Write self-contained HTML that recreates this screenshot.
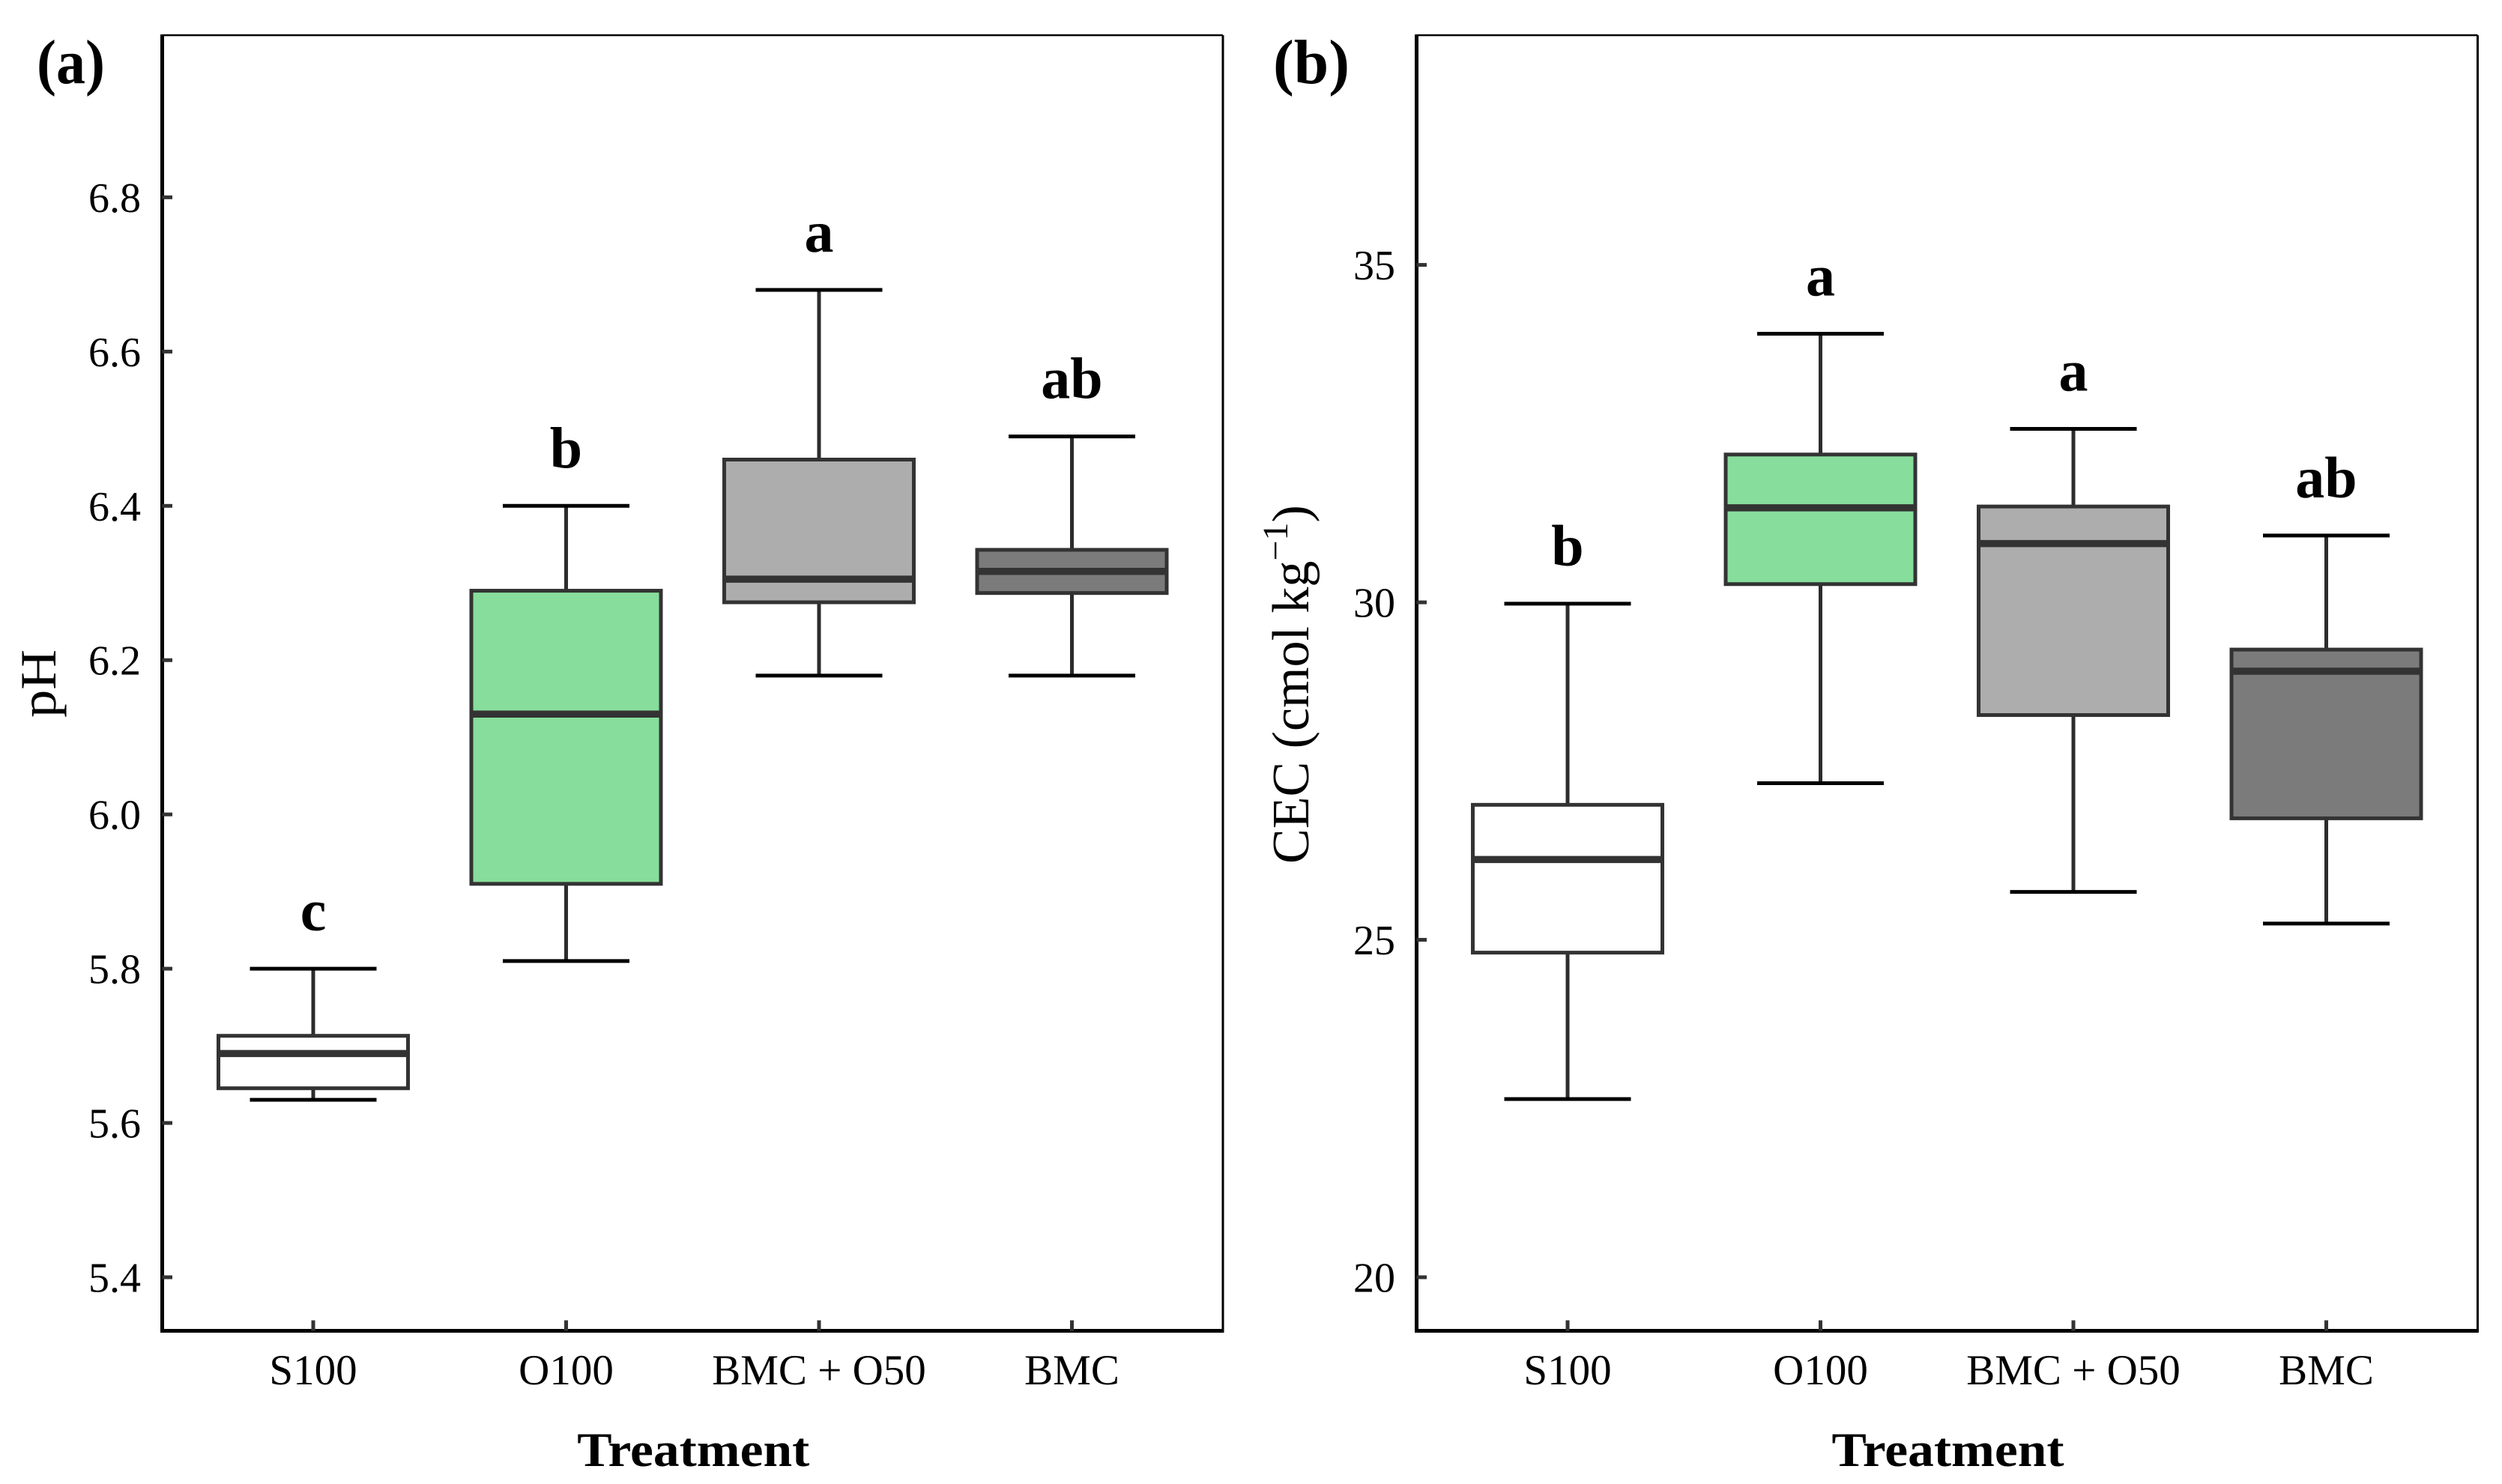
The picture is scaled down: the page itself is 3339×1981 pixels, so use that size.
<!DOCTYPE html>
<html lang="en">
<head>
<meta charset="utf-8">
<title>Soil pH and CEC by treatment</title>
<style>
html,body{margin:0;padding:0;background:#fff;}
svg{display:block;font-family:"Liberation Serif",serif;}
</style>
</head>
<body>
<svg id="figure" xmlns="http://www.w3.org/2000/svg" width="3339" height="1981" viewBox="0 0 3339 1981">
<rect width="3339" height="1981" fill="#ffffff"/>
<g id="panel-a"></g>
<g id="panel-b"></g>
</svg>
<script>
const categories = ["S100", "O100", "BMC + O50", "BMC"];
const categoryKeys = ["s100", "o100", "bmc-o50", "bmc"];
const boxFills = ["#ffffff", "#87dd9b", "#adadad", "#7b7b7b"];

const phTicks = [5.4, 5.6, 5.8, 6.0, 6.2, 6.4, 6.6, 6.8];
const phTickLabels = ["5.4", "5.6", "5.8", "6.0", "6.2", "6.4", "6.6", "6.8"];
const phLow = [5.63, 5.81, 6.18, 6.18];
const phQ1 = [5.645, 5.91, 6.275, 6.287];
const phMedian = [5.69, 6.13, 6.305, 6.315];
const phQ3 = [5.713, 6.29, 6.46, 6.343];
const phHigh = [5.80, 6.40, 6.68, 6.49];
const phLetters = ["c", "b", "a", "ab"];

const cecTicks = [20, 25, 30, 35];
const cecTickLabels = ["20", "25", "30", "35"];
const cecLow = [22.64, 27.32, 25.71, 25.24];
const cecQ1 = [24.81, 30.27, 28.33, 26.8];
const cecMedian = [26.19, 31.4, 30.87, 28.98];
const cecQ3 = [27.0, 32.19, 31.42, 29.3];
const cecHigh = [29.98, 33.98, 32.57, 30.99];
const cecLetters = ["b", "a", "a", "ab"];

const NS = "http://www.w3.org/2000/svg";
function make(parent, tag, props, text) {
  const el = document.createElementNS(NS, tag);
  for (const k in props) el.setAttribute(k, props[k]);
  if (text !== undefined) el.textContent = text;
  parent.appendChild(el);
  return el;
}
function linear(d0, d1, r0, r1) {
  return v => r0 + (v - d0) * (r1 - r0) / (d1 - d0);
}

function drawPanel(root, cfg) {
  const xPos = i => cfg.xStart + i * cfg.xStep;
  const y = cfg.yScale;
  const L = cfg.left, R = cfg.right, T = 47, B = 1776.5;

  const frameTop = make(root, "line", {x1: L, x2: R, y1: T, y2: T, stroke: "#000", "stroke-width": 2.5});
  
  
  const frameRight = make(root, "line", {x1: R, x2: R, y1: T, y2: B + 2.5, stroke: "#000", "stroke-width": 3});
  
  
  const yAxis = make(root, "line", {x1: L, x2: L, y1: T - 1, y2: B + 2.5, stroke: "#000", "stroke-width": 5});
  
  
  const xAxis = make(root, "line", {x1: L - 2.5, x2: R + 1.5, y1: B, y2: B, stroke: "#000", "stroke-width": 5});
  
  

  cfg.ticks.forEach((t, i) => {
    const tick = make(root, "line", {x1: L, x2: L + 13.5, y1: y(t), y2: y(t), stroke: "#333", "stroke-width": 5});
    
    
    const label = make(root, "text", {x: L - 28.5, y: y(t) + 19.5, "font-size": 56, "text-anchor": "end", fill: "#000"}, cfg.tickLabels[i]);
    
    
  });

  categories.forEach((c, i) => {
    const cx = xPos(i);
    const tick = make(root, "line", {x1: cx, x2: cx, y1: B, y2: B - 14, stroke: "#333", "stroke-width": 5});
    
    
    const label = make(root, "text", {x: cx, y: 1848, "font-size": 57, "text-anchor": "middle", fill: "#000"}, c);
    
    

    const whisker = make(root, "line", {x1: cx, x2: cx, y1: y(cfg.high[i]), y2: y(cfg.low[i]), stroke: "#2c2c2c", "stroke-width": 5});
    
    
    const capHigh = make(root, "line", {x1: cx - 84.5, x2: cx + 84.5, y1: y(cfg.high[i]), y2: y(cfg.high[i]), stroke: "#000", "stroke-width": 5});
    
    
    const capLow = make(root, "line", {x1: cx - 84.5, x2: cx + 84.5, y1: y(cfg.low[i]), y2: y(cfg.low[i]), stroke: "#000", "stroke-width": 5});
    
    
    const box = make(root, "rect", {x: cx - 126.5, width: 253, y: y(cfg.q3[i]), height: y(cfg.q1[i]) - y(cfg.q3[i]), fill: boxFills[i], stroke: "#333", "stroke-width": 5});
    
    
    const median = make(root, "line", {x1: cx - 126.5, x2: cx + 126.5, y1: y(cfg.median[i]), y2: y(cfg.median[i]), stroke: "#333", "stroke-width": 9.5});
    
    
    const letter = make(root, "text", {x: cx, y: y(cfg.high[i]) - 51, "font-size": 78, "font-weight": "bold", "text-anchor": "middle", fill: "#000"}, cfg.letters[i]);
    
    
  });

  const xTitle = make(root, "text", {x: (L + R) / 2 + 1, y: 1957, "font-size": 65, "font-weight": "bold", "text-anchor": "middle", fill: "#000", textLength: 310, lengthAdjust: "spacingAndGlyphs"}, "Treatment");
  
  
}

const panelA = document.getElementById("panel-a");
const panelB = document.getElementById("panel-b");

drawPanel(panelA, {
  left: 216.5, right: 1632, xStart: 418, xStep: 337.5,
  yScale: linear(5.4, 6.8, 1705, 263.4),
  ticks: phTicks, tickLabels: phTickLabels,
  low: phLow, q1: phQ1, median: phMedian, q3: phQ3, high: phHigh, letters: phLetters
});
drawPanel(panelB, {
  left: 1890.5, right: 3306.5, xStart: 2092, xStep: 337.5,
  yScale: linear(20, 35, 1705, 353.6),
  ticks: cecTicks, tickLabels: cecTickLabels,
  low: cecLow, q1: cecQ1, median: cecMedian, q3: cecQ3, high: cecHigh, letters: cecLetters
});

const tagA = make(panelA, "text", {x: 49, y: 111, "font-size": 84, "font-weight": "bold", fill: "#000", textLength: 91, lengthAdjust: "spacingAndGlyphs"}, "(a)");


const tagB = make(panelB, "text", {x: 1699, y: 111, "font-size": 84, "font-weight": "bold", fill: "#000", textLength: 102, lengthAdjust: "spacingAndGlyphs"}, "(b)");



const phTitle = make(panelA, "text", {transform: "translate(74,958) rotate(-90)", "font-size": 68, fill: "#000", textLength: 91, lengthAdjust: "spacingAndGlyphs"}, "pH");



const cecTitle = make(panelB, "text", {transform: "translate(1746,1153) rotate(-90)", "font-size": 70, fill: "#000"});


make(cecTitle, "tspan", {}, "CEC (cmol kg");
make(cecTitle, "tspan", {dy: -28, "font-size": 48}, "\u22121");
make(cecTitle, "tspan", {dy: 28}, ")");
</script>
</body>
</html>
